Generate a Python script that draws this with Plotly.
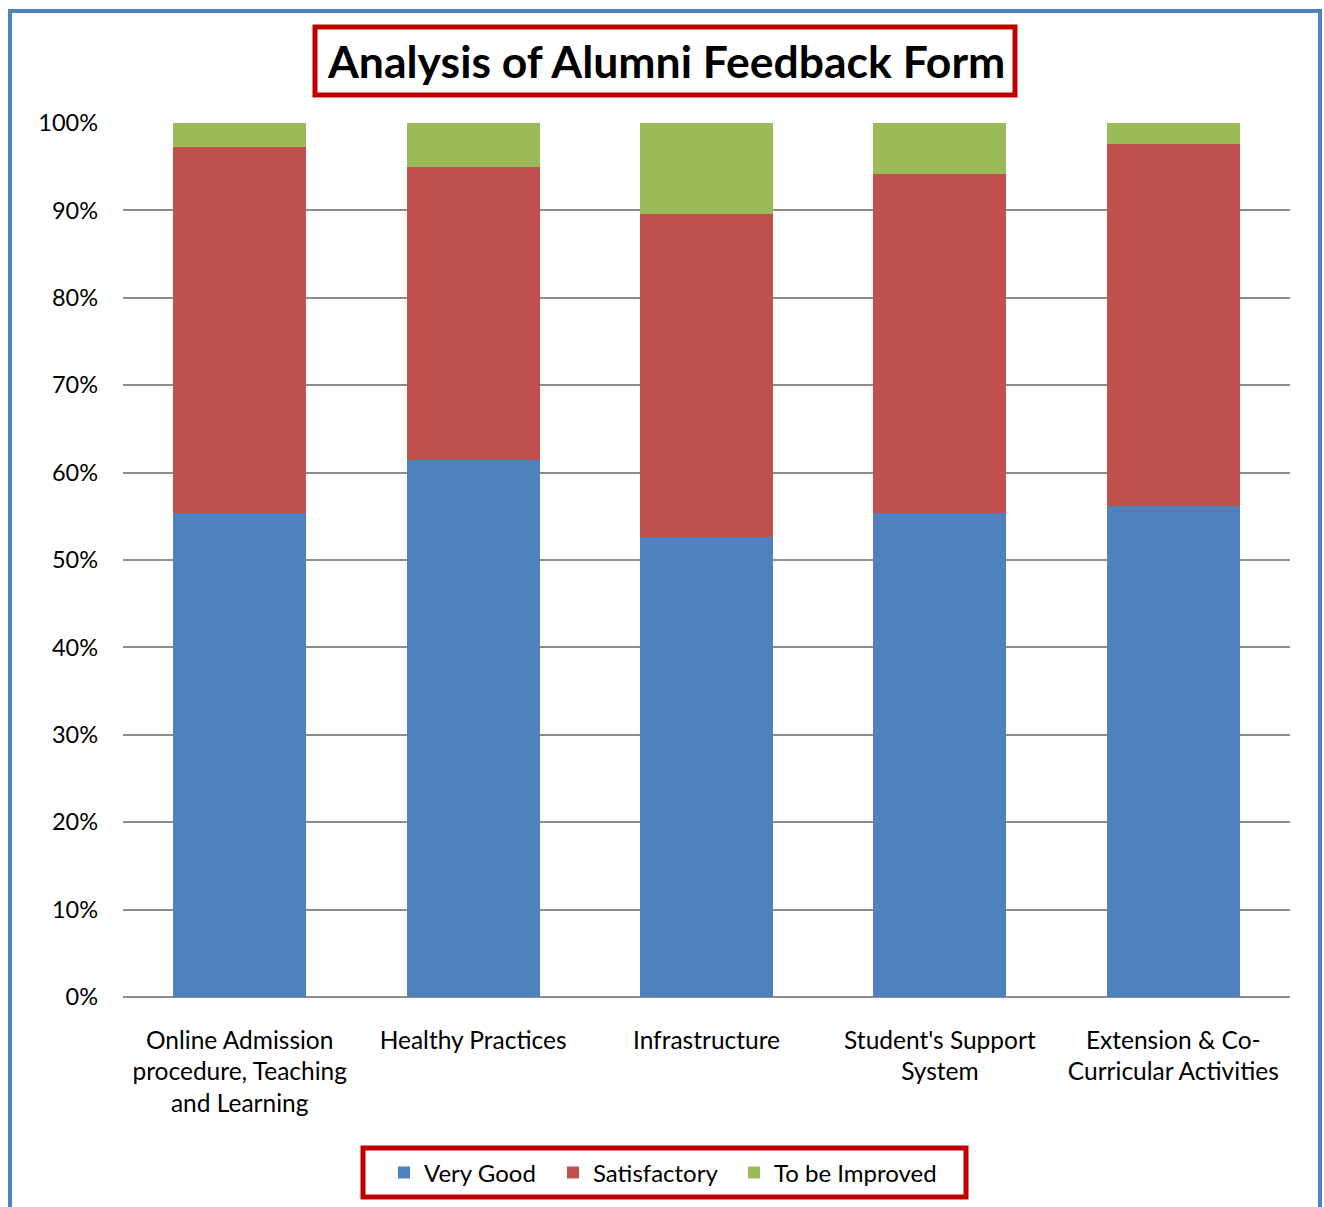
import plotly.graph_objects as go

categories = [
    "Online Admission<br>procedure, Teaching<br>and Learning",
    "Healthy Practices",
    "Infrastructure",
    "Student's Support<br>System",
    "Extension & Co-<br>Curricular Activities",
]
very_good = [55.4, 61.4, 52.6, 55.4, 56.2]
satisfactory = [41.85, 33.6, 37.0, 38.8, 41.4]
to_be_improved = [2.75, 5.0, 10.4, 5.8, 2.4]
y_ticks = [0, 10, 20, 30, 40, 50, 60, 70, 80, 90, 100]
y_tick_labels = [f"{v}%" for v in y_ticks]

FONT = "Lato, 'Open Sans', sans-serif"
OFF = 0  # body margin removed via post_script
W, H = 1324, 1207
L, R, T, B = 123, 34, 123, 210
PW, PH = W - L - R, H - T - B


def px(x):
    return (x - OFF - L) / PW


def py(y):
    return (H - B - (y - OFF)) / PH


fig = go.Figure()
for name, vals, col, lw in [
    ("Very Good", very_good, "#4F81BD", 124),
    ("Satisfactory", satisfactory, "#C0504D", 136),
    ("To be Improved", to_be_improved, "#9BBB59", 175),
]:
    fig.add_trace(go.Bar(x=categories, y=vals, name=name, marker_color=col,
                         marker_line_width=0, legendwidth=lw))

fig.update_layout(
    width=W, height=H,
    margin=dict(l=L, r=R, t=T, b=B, autoexpand=False),
    barmode="stack",
    bargap=0.43,
    plot_bgcolor="white",
    paper_bgcolor="white",
    font=dict(family=FONT, size=22, color="#000000"),
    showlegend=True,
    legend=dict(orientation="h", x=px(384), xanchor="left", y=py(1173), yanchor="middle",
                font=dict(size=24), bgcolor="rgba(0,0,0,0)", traceorder="normal",
                itemwidth=30, borderwidth=0),
    xaxis=dict(showgrid=False, showline=False, ticks="", ticklabelstandoff=26,
               tickfont=dict(size=24.5)),
    yaxis=dict(range=[0, 100], tickvals=y_ticks, ticktext=y_tick_labels,
               showgrid=True, gridcolor="#8C8C8C", gridwidth=1.5,
               zeroline=True, zerolinecolor="#8C8C8C", zerolinewidth=2,
               showline=False, ticks="", ticklabelstandoff=24,
               tickfont=dict(size=23.5)),
    annotations=[dict(text="<b>Analysis of Alumni Feedback Form</b>", xref="paper", yref="paper",
                      x=px(666), y=py(61), xanchor="center", yanchor="middle",
                      showarrow=False, font=dict(size=44.5, family=FONT, color="#000000"))],
    shapes=[
        dict(type="rect", xref="paper", yref="paper", x0=px(10), x1=px(1320),
             y0=py(1225), y1=py(11), line=dict(color="#4F81BD", width=4), layer="below"),
        dict(type="rect", xref="paper", yref="paper", x0=px(315), x1=px(1015),
             y0=py(95), y1=py(27), line=dict(color="#C00000", width=5)),
        dict(type="rect", xref="paper", yref="paper", x0=px(363), x1=px(966),
             y0=py(1197), y1=py(1148), line=dict(color="#C00000", width=5)),
    ],
)

fig.write_html(
    "out.html",
    config={"displayModeBar": False},
    post_script="document.body.style.margin='0';document.body.style.overflow='hidden';",
)
